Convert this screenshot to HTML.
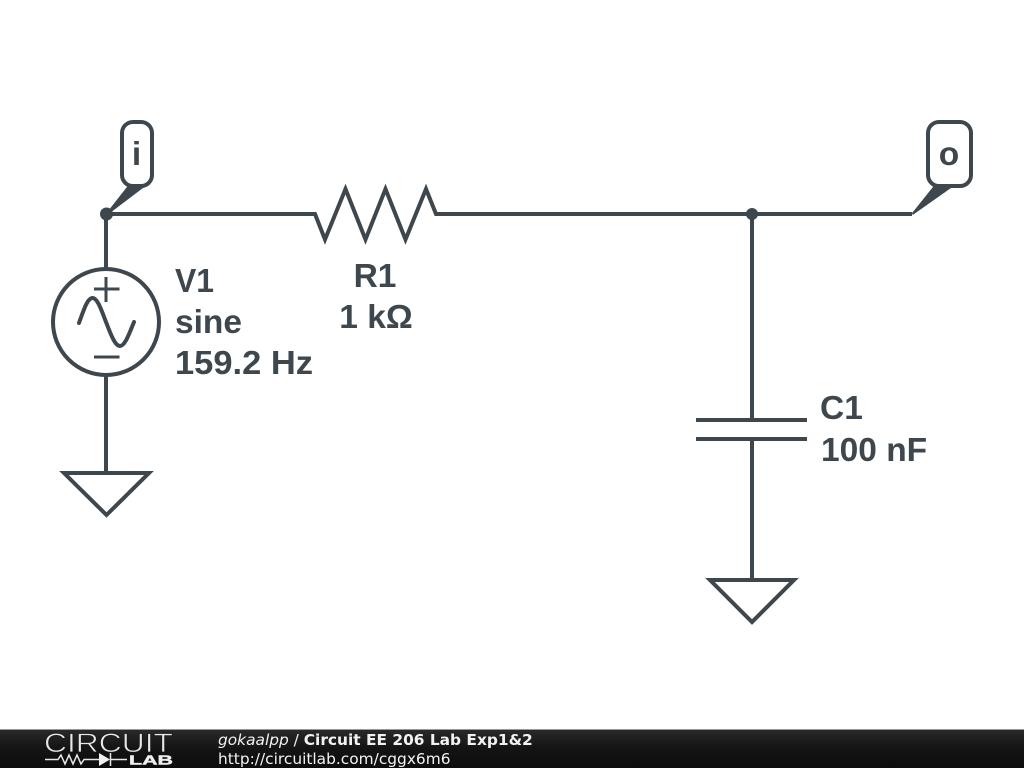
<!DOCTYPE html>
<html><head><meta charset="utf-8"><style>
html,body{margin:0;padding:0;background:#fff;width:1024px;height:768px;overflow:hidden}
svg{display:block}
</style></head><body>
<svg width="1024" height="768" viewBox="0 0 1024 768" xmlns="http://www.w3.org/2000/svg">
<defs><linearGradient id="g" x1="0" y1="0" x2="0" y2="1"><stop offset="0" stop-color="#2a2a2a"/><stop offset="0.5" stop-color="#141414"/><stop offset="1" stop-color="#0c0c0c"/></linearGradient></defs>
<rect width="1024" height="768" fill="#fff"/>
<g fill="none" stroke="#3d474d" stroke-width="4">
<path d="M106 214H315L325 239.500 345.500 189 365.500 239.500 385.500 189 405.500 239.500 426 189 436 214H912"/>
<path d="M752 214V420M752 439V580M106 214V269M106 375V473"/>
<path d="M696 420H807M696 439H807"/>
<circle cx="106" cy="322" r="53"/>
<path d="M64 473H149L106.500 515Z"/>
<path d="M710 580H794L752 622Z"/>
<path d="M94 289H119.500M106 277V302M94 357H119.500" stroke-width="3"/>
<path d="M79 323C83.900 309.300 87.600 298 92.500 298C97.400 298 101.100 309.300 106 322C110.900 334.700 115.100 346 120 346C124.900 346 129.100 334 134 322" stroke-linecap="round"/>
<rect x="122" y="122" width="30" height="64" rx="11"/>
<rect x="928" y="122" width="43" height="64" rx="11"/>
</g>
<circle cx="106.500" cy="214" r="6.500" fill="#3d474d"/>
<circle cx="752" cy="214" r="6" fill="#3d474d"/>
<path d="M107 214L129 186H144Z" fill="#3d474d" stroke="#3d474d" stroke-width="2" stroke-linejoin="round"/>
<path d="M913 213.500L935 186H952Z" fill="#3d474d" stroke="#3d474d" stroke-width="2" stroke-linejoin="round"/>
<g font-family="'Liberation Sans',sans-serif" font-weight="700" font-size="33.500" fill="#3d474d">
<text x="136.500" y="165" text-anchor="middle">i</text>
<text x="949" y="165" text-anchor="middle">o</text>
<text x="175" y="292" textLength="39" lengthAdjust="spacingAndGlyphs">V1</text>
<text x="175" y="333" textLength="67" lengthAdjust="spacingAndGlyphs">sine</text>
<text x="175" y="374" textLength="138" lengthAdjust="spacingAndGlyphs">159.2 Hz</text>
<text x="375" y="287" text-anchor="middle">R1</text>
<text x="376" y="328" text-anchor="middle">1 kΩ</text>
<text x="820" y="419">C1</text>
<text x="821" y="461">100 nF</text>
</g>
<rect x="0" y="729" width="1024" height="39" fill="url(#g)"/>
<rect x="0" y="729" width="1024" height="1" fill="#999"/>
<text x="44" y="752" font-family="'Liberation Sans',sans-serif" font-size="27" fill="#e8e8e8" stroke="#181818" stroke-width="0.7" textLength="129" lengthAdjust="spacingAndGlyphs">CIRCUIT</text>
<path d="M45 759.500H58L61 755 65 764 69 755 73 764 77 755 81 764 84 759.500H99M110 759.500H127M110.500 753V766" fill="none" stroke="#e8e8e8" stroke-width="1.500"/>
<path d="M99 753V766L110 759.500Z" fill="#f0f0f0"/>
<text x="129" y="764.500" font-family="'Liberation Sans',sans-serif" font-weight="700" font-size="13" fill="#f0f0f0" stroke="#f0f0f0" stroke-width="0.4" textLength="44" lengthAdjust="spacingAndGlyphs">LAB</text>
<g font-family="'DejaVu Sans',sans-serif" font-size="15.400" fill="#f2f2f2">
<text x="218" y="745"><tspan font-style="italic">gokaalpp</tspan> / <tspan font-weight="700">Circuit EE 206 Lab Exp1&amp;2</tspan></text>
<text x="218" y="764">http://circuitlab.com/cggx6m6</text>
</g>
</svg>
</body></html>
